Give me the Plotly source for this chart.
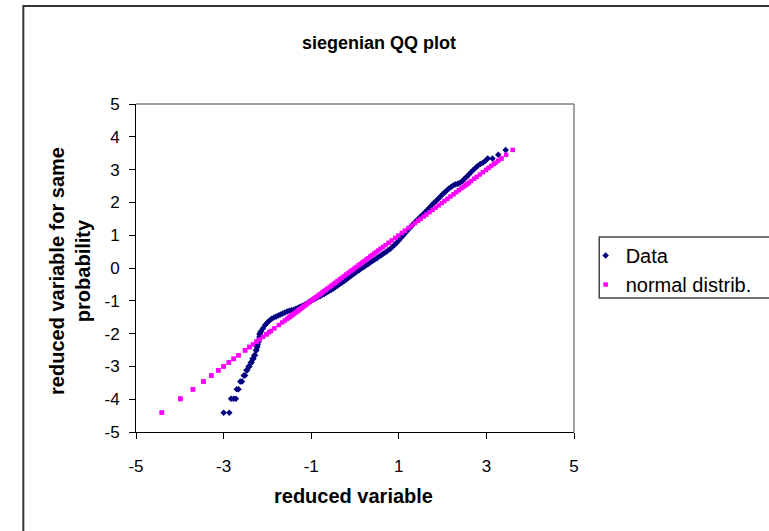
import plotly.graph_objects as go

# ---- data ----
# Data series: x = reduced variable, y = reduced variable for same probability
data_x = [-3.00, -2.87, -2.83, -2.77, -2.72, -2.70, -2.66, -2.62, -2.58, -2.54,
          -2.51, -2.48, -2.46, -2.43, -2.41, -2.38, -2.36, -2.34, -2.32, -2.30,
          -2.28, -2.26, -2.25, -2.24, -2.23, -2.22, -2.21, -2.20, -2.19, -2.185,
          -2.18, -2.17, -2.16, -2.14,
          -2.10, -2.05, -2.00, -1.95, -1.90, -1.85, -1.80, -1.75, -1.70, -1.65,
          -1.60, -1.55, -1.50, -1.45, -1.40, -1.35, -1.30, -1.25, -1.20, -1.15,
          -1.10, -1.05, -1.00, -0.95, -0.90, -0.85, -0.80, -0.75, -0.70, -0.65,
          -0.60, -0.55, -0.50, -0.45, -0.40, -0.35, -0.30, -0.25, -0.20, -0.15,
          -0.10, -0.05, 0.00, 0.05, 0.10, 0.15, 0.20, 0.25, 0.30, 0.35,
          0.40, 0.45, 0.50, 0.55, 0.60, 0.65, 0.70, 0.75, 0.80, 0.85,
          0.90, 0.95, 1.00, 1.05, 1.10, 1.15, 1.20, 1.25, 1.30, 1.35,
          1.40, 1.45, 1.50, 1.55, 1.60, 1.65, 1.70, 1.75, 1.80, 1.85,
          1.90, 1.95, 2.00, 2.05, 2.10, 2.15, 2.20, 2.25, 2.30, 2.35,
          2.40, 2.45, 2.50, 2.55, 2.60,
          2.65, 2.70, 2.75, 2.80, 2.86, 2.92, 2.98, 3.03, 3.14, 3.27, 3.44]

data_y = [-4.41, -4.41, -3.99, -3.99, -3.99, -3.70, -3.70, -3.46, -3.46, -3.28,
          -3.28, -3.12, -3.12, -3.00, -3.00, -2.88, -2.88, -2.77, -2.77, -2.66,
          -2.66, -2.51, -2.51, -2.41, -2.41, -2.33, -2.25, -2.25, -2.18, -2.10,
          -2.02, -2.02, -1.96, -1.92,
          -1.84, -1.74, -1.66, -1.60, -1.55, -1.51, -1.48, -1.45, -1.42, -1.39,
          -1.36, -1.33, -1.30, -1.29, -1.27, -1.24, -1.21, -1.18, -1.15, -1.12,
          -1.08, -1.04, -1.00, -0.96, -0.93, -0.89, -0.86, -0.82, -0.79, -0.75,
          -0.71, -0.67, -0.63, -0.58, -0.54, -0.49, -0.45, -0.40, -0.35, -0.30,
          -0.25, -0.20, -0.15, -0.10, -0.06, -0.01, 0.03, 0.08, 0.12, 0.17,
          0.21, 0.26, 0.30, 0.35, 0.39, 0.44, 0.48, 0.53, 0.58, 0.64,
          0.70, 0.77, 0.84, 0.92, 0.99, 1.07, 1.14, 1.22, 1.29, 1.37,
          1.44, 1.50, 1.57, 1.63, 1.70, 1.77, 1.84, 1.91, 1.98, 2.04,
          2.11, 2.18, 2.25, 2.31, 2.37, 2.43, 2.48, 2.52, 2.55, 2.57,
          2.60, 2.65, 2.72, 2.78, 2.85,
          2.92, 2.99, 3.05, 3.11, 3.17, 3.21, 3.27, 3.34, 3.34, 3.45, 3.60]

# normal distribution reference: each data level plotted against itself
normal_x = data_y
normal_y = data_y

x_tick_vals = [-5, -3, -1, 1, 3, 5]
x_tick_labels = ["-5", "-3", "-1", "1", "3", "5"]
y_tick_vals = [-5, -4, -3, -2, -1, 0, 1, 2, 3, 4, 5]
y_tick_labels = ["-5", "-4", "-3", "-2", "-1", "0", "1", "2", "3", "4", "5"]

FONT = "Liberation Sans, Arial, sans-serif"

fig = go.Figure()
fig.add_trace(go.Scatter(
    x=data_x, y=data_y, mode="markers", name="Data",
    marker=dict(symbol="diamond", size=5, color="#000080", line=dict(width=0)),
))
fig.add_trace(go.Scatter(
    x=normal_x, y=normal_y, mode="markers", name="normal distrib.",
    marker=dict(symbol="square", size=4.5, color="#FF00FF", line=dict(width=0)),
))

# geometry (pixels)
L, R, T, B = 136, 182, 104, 99
W, H = 769 - L - R, 531 - T - B


def px(xp):
    return (xp - L) / W


def py(yp):
    return (531 - B - yp) / H


axis_common = dict(
    range=[-5, 5], showgrid=False, zeroline=False,
    showline=True, linecolor="black", linewidth=1,
    ticks="outside", ticklen=6, tickcolor="black", tickwidth=1,
    tickfont=dict(family=FONT, size=17, color="black"),
)

fig.update_layout(
    width=769, height=531,
    margin=dict(l=L, r=R, t=T, b=B),
    paper_bgcolor="white", plot_bgcolor="white",
    font=dict(family=FONT, color="black"),
    xaxis=dict(axis_common, tickvals=x_tick_vals, ticktext=x_tick_labels,
               ticklabelstandoff=13),
    yaxis=dict(axis_common, tickvals=y_tick_vals, ticktext=y_tick_labels,
               ticklabelstandoff=6),
    showlegend=True,
    legend=dict(
        x=px(599), y=py(236), xanchor="left", yanchor="top",
        bgcolor="rgba(0,0,0,0)", borderwidth=0,
        font=dict(family=FONT, size=20, color="black"),
    ),
    shapes=[
        # plot area gray border (top and right)
        dict(type="line", xref="paper", yref="paper", x0=0, x1=1, y0=1, y1=1,
             line=dict(color="#808080", width=1.5)),
        dict(type="line", xref="paper", yref="paper", x0=1, x1=1, y0=0, y1=1,
             line=dict(color="#808080", width=1.5)),
        # outer chart border
        dict(type="rect", xref="paper", yref="paper",
             x0=px(20), x1=px(800), y0=py(560), y1=py(6),
             line=dict(color="#333333", width=2), fillcolor="rgba(0,0,0,0)", layer="below"),
        # legend box
        dict(type="rect", xref="paper", yref="paper",
             x0=px(613), x1=px(800), y0=py(298), y1=py(237),
             line=dict(color="#444444", width=1.5), fillcolor="rgba(0,0,0,0)", layer="below"),
    ],
    annotations=[
        dict(text="<b>siegenian QQ plot</b>", xref="paper", yref="paper",
             x=px(386), y=py(43), showarrow=False, xanchor="center", yanchor="middle",
             font=dict(family=FONT, size=18, color="black")),
        dict(text="<b>reduced variable</b>", xref="paper", yref="paper",
             x=px(360), y=py(496), showarrow=False, xanchor="center", yanchor="middle",
             font=dict(family=FONT, size=20, color="black")),
        dict(text="<b>reduced variable for same<br>probability</b>", xref="paper", yref="paper",
             x=px(68), y=py(271), showarrow=False, xanchor="center", yanchor="middle",
             textangle=-90, font=dict(family=FONT, size=20, color="black")),
    ],
)

fig.write_html(
    "out.html",
    config={"displayModeBar": False},
    post_script="document.body.style.margin='0px';document.body.style.overflow='hidden';",
)
